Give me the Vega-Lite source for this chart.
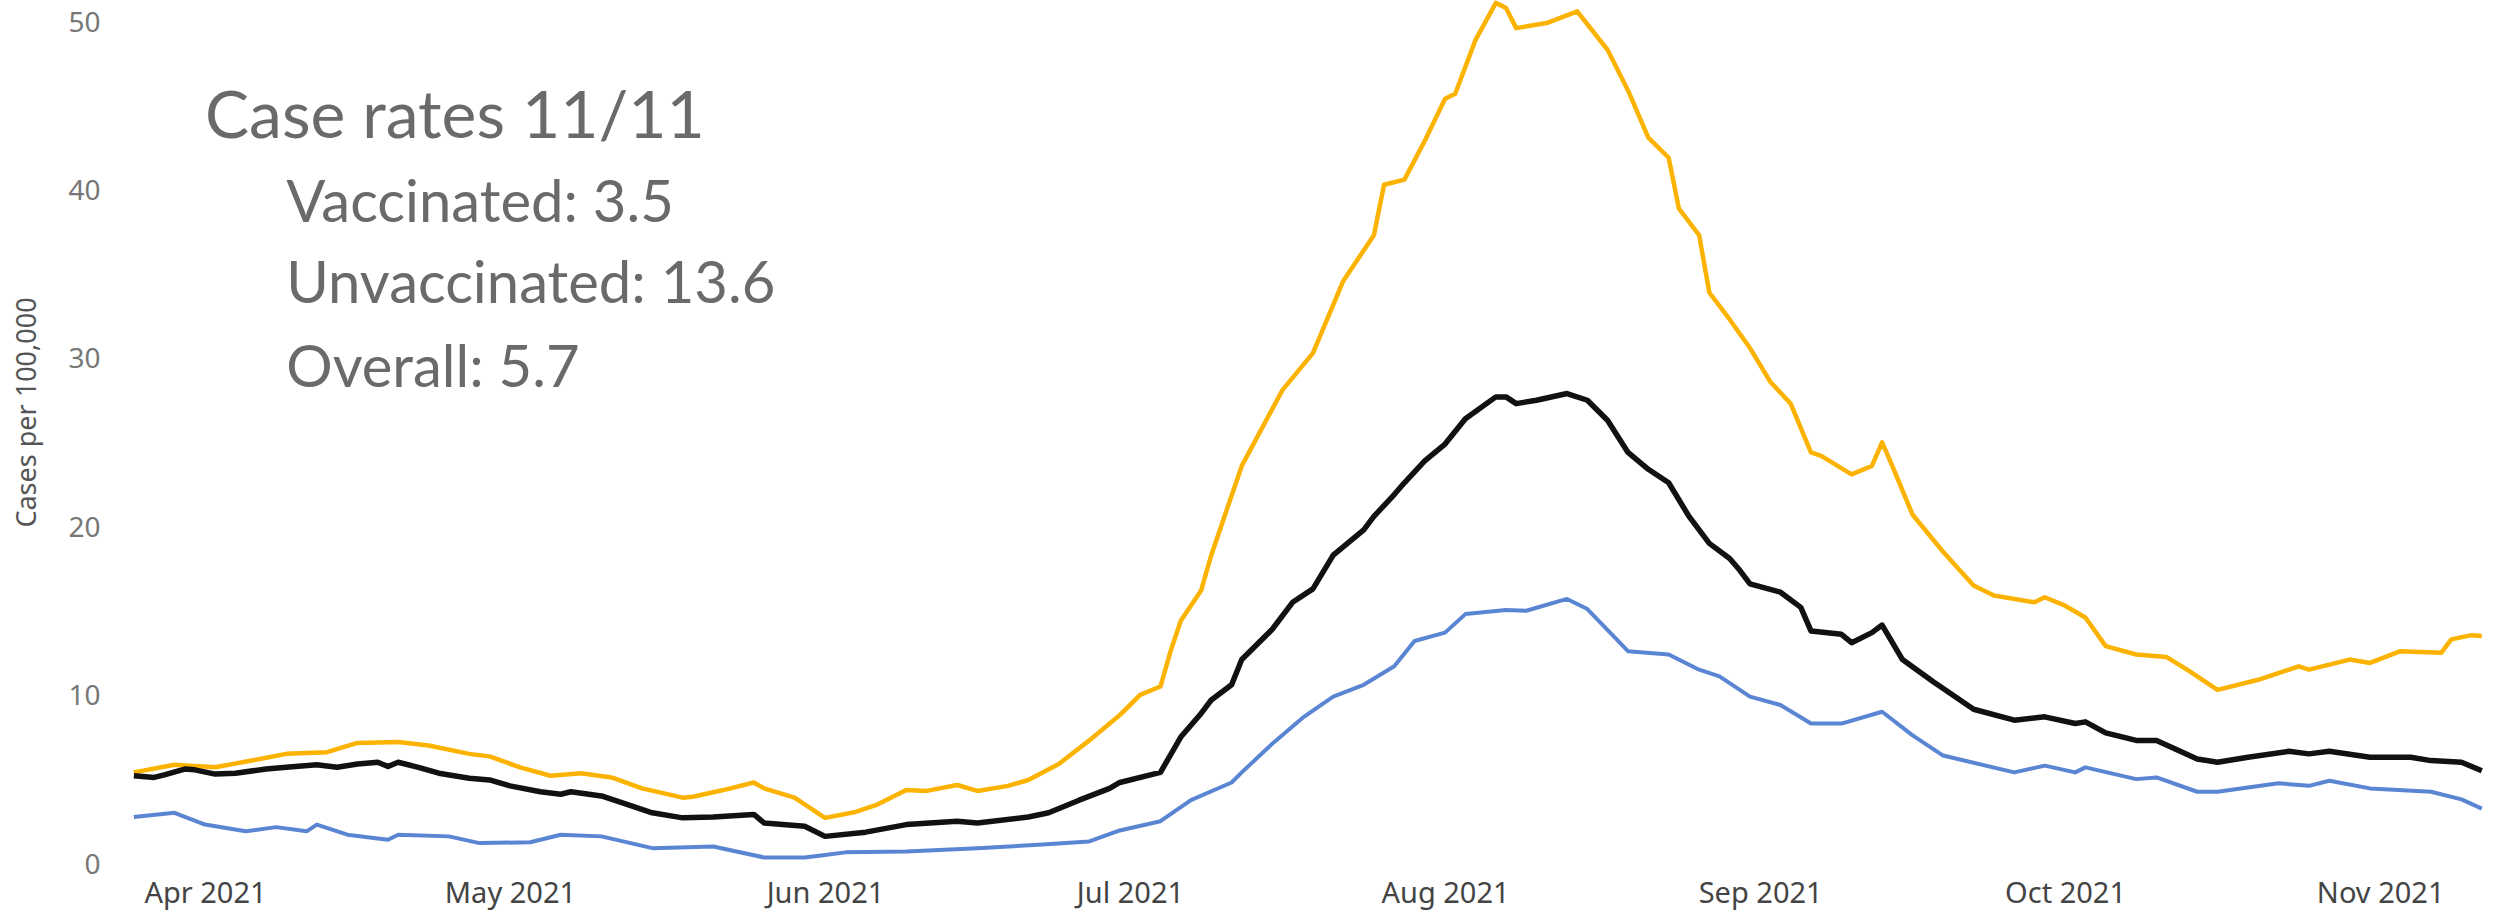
{
  "$schema": "https://vega.github.io/schema/vega-lite/v6.json",
  "width": 2370,
  "height": 865,
  "autosize": {"type": "none"},
  "padding": {"left": 130, "top": 0, "right": 11, "bottom": 52},
  "background": "white",
  "config": {"view": {"stroke": null}},
  "datasets": {
    "cases": [
      {"date": "2021-03-25", "series": "Overall", "value": 5.3},
      {"date": "2021-03-27", "series": "Overall", "value": 5.2},
      {"date": "2021-03-28", "series": "Overall", "value": 5.35},
      {"date": "2021-03-30", "series": "Overall", "value": 5.7},
      {"date": "2021-03-31", "series": "Overall", "value": 5.65},
      {"date": "2021-04-02", "series": "Overall", "value": 5.4},
      {"date": "2021-04-04", "series": "Overall", "value": 5.45},
      {"date": "2021-04-07", "series": "Overall", "value": 5.7},
      {"date": "2021-04-09", "series": "Overall", "value": 5.8},
      {"date": "2021-04-12", "series": "Overall", "value": 5.95},
      {"date": "2021-04-14", "series": "Overall", "value": 5.8},
      {"date": "2021-04-16", "series": "Overall", "value": 6.0},
      {"date": "2021-04-18", "series": "Overall", "value": 6.1},
      {"date": "2021-04-19", "series": "Overall", "value": 5.85},
      {"date": "2021-04-20", "series": "Overall", "value": 6.1},
      {"date": "2021-04-22", "series": "Overall", "value": 5.8},
      {"date": "2021-04-24", "series": "Overall", "value": 5.45},
      {"date": "2021-04-27", "series": "Overall", "value": 5.15},
      {"date": "2021-04-29", "series": "Overall", "value": 5.05},
      {"date": "2021-05-01", "series": "Overall", "value": 4.7},
      {"date": "2021-05-04", "series": "Overall", "value": 4.35},
      {"date": "2021-05-06", "series": "Overall", "value": 4.2},
      {"date": "2021-05-07", "series": "Overall", "value": 4.35},
      {"date": "2021-05-10", "series": "Overall", "value": 4.1},
      {"date": "2021-05-12", "series": "Overall", "value": 3.7},
      {"date": "2021-05-15", "series": "Overall", "value": 3.1},
      {"date": "2021-05-18", "series": "Overall", "value": 2.8},
      {"date": "2021-05-21", "series": "Overall", "value": 2.85},
      {"date": "2021-05-25", "series": "Overall", "value": 3.0},
      {"date": "2021-05-26", "series": "Overall", "value": 2.5},
      {"date": "2021-05-30", "series": "Overall", "value": 2.3},
      {"date": "2021-06-01", "series": "Overall", "value": 1.7},
      {"date": "2021-06-05", "series": "Overall", "value": 1.95},
      {"date": "2021-06-09", "series": "Overall", "value": 2.4},
      {"date": "2021-06-14", "series": "Overall", "value": 2.6},
      {"date": "2021-06-16", "series": "Overall", "value": 2.5},
      {"date": "2021-06-21", "series": "Overall", "value": 2.85},
      {"date": "2021-06-23", "series": "Overall", "value": 3.1},
      {"date": "2021-06-26", "series": "Overall", "value": 3.85},
      {"date": "2021-06-29", "series": "Overall", "value": 4.55},
      {"date": "2021-06-30", "series": "Overall", "value": 4.9},
      {"date": "2021-07-04", "series": "Overall", "value": 5.5},
      {"date": "2021-07-06", "series": "Overall", "value": 7.6},
      {"date": "2021-07-08", "series": "Overall", "value": 9.0},
      {"date": "2021-07-09", "series": "Overall", "value": 9.8},
      {"date": "2021-07-11", "series": "Overall", "value": 10.7},
      {"date": "2021-07-12", "series": "Overall", "value": 12.2},
      {"date": "2021-07-15", "series": "Overall", "value": 14.0},
      {"date": "2021-07-17", "series": "Overall", "value": 15.6},
      {"date": "2021-07-19", "series": "Overall", "value": 16.4},
      {"date": "2021-07-21", "series": "Overall", "value": 18.4},
      {"date": "2021-07-24", "series": "Overall", "value": 19.9},
      {"date": "2021-07-25", "series": "Overall", "value": 20.7},
      {"date": "2021-07-27", "series": "Overall", "value": 22.0},
      {"date": "2021-07-28", "series": "Overall", "value": 22.7},
      {"date": "2021-07-30", "series": "Overall", "value": 24.0},
      {"date": "2021-08-01", "series": "Overall", "value": 25.0},
      {"date": "2021-08-03", "series": "Overall", "value": 26.5},
      {"date": "2021-08-06", "series": "Overall", "value": 27.8},
      {"date": "2021-08-07", "series": "Overall", "value": 27.8},
      {"date": "2021-08-08", "series": "Overall", "value": 27.4},
      {"date": "2021-08-10", "series": "Overall", "value": 27.6},
      {"date": "2021-08-13", "series": "Overall", "value": 28.0},
      {"date": "2021-08-15", "series": "Overall", "value": 27.6},
      {"date": "2021-08-17", "series": "Overall", "value": 26.4},
      {"date": "2021-08-19", "series": "Overall", "value": 24.5},
      {"date": "2021-08-21", "series": "Overall", "value": 23.5},
      {"date": "2021-08-23", "series": "Overall", "value": 22.7},
      {"date": "2021-08-25", "series": "Overall", "value": 20.7},
      {"date": "2021-08-27", "series": "Overall", "value": 19.1},
      {"date": "2021-08-29", "series": "Overall", "value": 18.2},
      {"date": "2021-08-30", "series": "Overall", "value": 17.5},
      {"date": "2021-08-31", "series": "Overall", "value": 16.7},
      {"date": "2021-09-03", "series": "Overall", "value": 16.2},
      {"date": "2021-09-05", "series": "Overall", "value": 15.3},
      {"date": "2021-09-06", "series": "Overall", "value": 13.9},
      {"date": "2021-09-09", "series": "Overall", "value": 13.7},
      {"date": "2021-09-10", "series": "Overall", "value": 13.2},
      {"date": "2021-09-12", "series": "Overall", "value": 13.8},
      {"date": "2021-09-13", "series": "Overall", "value": 14.25},
      {"date": "2021-09-15", "series": "Overall", "value": 12.2},
      {"date": "2021-09-18", "series": "Overall", "value": 10.9},
      {"date": "2021-09-22", "series": "Overall", "value": 9.25},
      {"date": "2021-09-26", "series": "Overall", "value": 8.6},
      {"date": "2021-09-29", "series": "Overall", "value": 8.8},
      {"date": "2021-10-02", "series": "Overall", "value": 8.4},
      {"date": "2021-10-03", "series": "Overall", "value": 8.5},
      {"date": "2021-10-05", "series": "Overall", "value": 7.85},
      {"date": "2021-10-08", "series": "Overall", "value": 7.4},
      {"date": "2021-10-10", "series": "Overall", "value": 7.4},
      {"date": "2021-10-14", "series": "Overall", "value": 6.3},
      {"date": "2021-10-16", "series": "Overall", "value": 6.1},
      {"date": "2021-10-19", "series": "Overall", "value": 6.4},
      {"date": "2021-10-23", "series": "Overall", "value": 6.75},
      {"date": "2021-10-25", "series": "Overall", "value": 6.6},
      {"date": "2021-10-27", "series": "Overall", "value": 6.75},
      {"date": "2021-10-31", "series": "Overall", "value": 6.4},
      {"date": "2021-11-04", "series": "Overall", "value": 6.4},
      {"date": "2021-11-06", "series": "Overall", "value": 6.2},
      {"date": "2021-11-09", "series": "Overall", "value": 6.1},
      {"date": "2021-11-11", "series": "Overall", "value": 5.6},

      {"date": "2021-03-25", "series": "Unvaccinated", "value": 5.5},
      {"date": "2021-03-29", "series": "Unvaccinated", "value": 5.95},
      {"date": "2021-04-02", "series": "Unvaccinated", "value": 5.8},
      {"date": "2021-04-06", "series": "Unvaccinated", "value": 6.25},
      {"date": "2021-04-09", "series": "Unvaccinated", "value": 6.6},
      {"date": "2021-04-13", "series": "Unvaccinated", "value": 6.7},
      {"date": "2021-04-16", "series": "Unvaccinated", "value": 7.25},
      {"date": "2021-04-20", "series": "Unvaccinated", "value": 7.3},
      {"date": "2021-04-23", "series": "Unvaccinated", "value": 7.1},
      {"date": "2021-04-27", "series": "Unvaccinated", "value": 6.6},
      {"date": "2021-04-29", "series": "Unvaccinated", "value": 6.45},
      {"date": "2021-05-02", "series": "Unvaccinated", "value": 5.8},
      {"date": "2021-05-05", "series": "Unvaccinated", "value": 5.3},
      {"date": "2021-05-08", "series": "Unvaccinated", "value": 5.45},
      {"date": "2021-05-11", "series": "Unvaccinated", "value": 5.2},
      {"date": "2021-05-14", "series": "Unvaccinated", "value": 4.55},
      {"date": "2021-05-18", "series": "Unvaccinated", "value": 4.0},
      {"date": "2021-05-19", "series": "Unvaccinated", "value": 4.05},
      {"date": "2021-05-22", "series": "Unvaccinated", "value": 4.45},
      {"date": "2021-05-25", "series": "Unvaccinated", "value": 4.9},
      {"date": "2021-05-26", "series": "Unvaccinated", "value": 4.55},
      {"date": "2021-05-29", "series": "Unvaccinated", "value": 4.0},
      {"date": "2021-06-01", "series": "Unvaccinated", "value": 2.8},
      {"date": "2021-06-04", "series": "Unvaccinated", "value": 3.15},
      {"date": "2021-06-06", "series": "Unvaccinated", "value": 3.55},
      {"date": "2021-06-09", "series": "Unvaccinated", "value": 4.45},
      {"date": "2021-06-11", "series": "Unvaccinated", "value": 4.4},
      {"date": "2021-06-14", "series": "Unvaccinated", "value": 4.75},
      {"date": "2021-06-16", "series": "Unvaccinated", "value": 4.4},
      {"date": "2021-06-19", "series": "Unvaccinated", "value": 4.7},
      {"date": "2021-06-21", "series": "Unvaccinated", "value": 5.05},
      {"date": "2021-06-24", "series": "Unvaccinated", "value": 6.0},
      {"date": "2021-06-27", "series": "Unvaccinated", "value": 7.4},
      {"date": "2021-06-29", "series": "Unvaccinated", "value": 8.4},
      {"date": "2021-06-30", "series": "Unvaccinated", "value": 8.9},
      {"date": "2021-07-02", "series": "Unvaccinated", "value": 10.1},
      {"date": "2021-07-04", "series": "Unvaccinated", "value": 10.6},
      {"date": "2021-07-05", "series": "Unvaccinated", "value": 12.7},
      {"date": "2021-07-06", "series": "Unvaccinated", "value": 14.5},
      {"date": "2021-07-08", "series": "Unvaccinated", "value": 16.3},
      {"date": "2021-07-09", "series": "Unvaccinated", "value": 18.4},
      {"date": "2021-07-12", "series": "Unvaccinated", "value": 23.7},
      {"date": "2021-07-16", "series": "Unvaccinated", "value": 28.2},
      {"date": "2021-07-19", "series": "Unvaccinated", "value": 30.4},
      {"date": "2021-07-22", "series": "Unvaccinated", "value": 34.7},
      {"date": "2021-07-25", "series": "Unvaccinated", "value": 37.4},
      {"date": "2021-07-26", "series": "Unvaccinated", "value": 40.4},
      {"date": "2021-07-28", "series": "Unvaccinated", "value": 40.7},
      {"date": "2021-07-30", "series": "Unvaccinated", "value": 43.0},
      {"date": "2021-08-01", "series": "Unvaccinated", "value": 45.5},
      {"date": "2021-08-02", "series": "Unvaccinated", "value": 45.8},
      {"date": "2021-08-04", "series": "Unvaccinated", "value": 49.0},
      {"date": "2021-08-06", "series": "Unvaccinated", "value": 51.2},
      {"date": "2021-08-07", "series": "Unvaccinated", "value": 50.9},
      {"date": "2021-08-08", "series": "Unvaccinated", "value": 49.7},
      {"date": "2021-08-11", "series": "Unvaccinated", "value": 50.0},
      {"date": "2021-08-14", "series": "Unvaccinated", "value": 50.7},
      {"date": "2021-08-17", "series": "Unvaccinated", "value": 48.4},
      {"date": "2021-08-19", "series": "Unvaccinated", "value": 46.0},
      {"date": "2021-08-21", "series": "Unvaccinated", "value": 43.2},
      {"date": "2021-08-23", "series": "Unvaccinated", "value": 42.0},
      {"date": "2021-08-24", "series": "Unvaccinated", "value": 39.0},
      {"date": "2021-08-26", "series": "Unvaccinated", "value": 37.4},
      {"date": "2021-08-27", "series": "Unvaccinated", "value": 34.0},
      {"date": "2021-08-29", "series": "Unvaccinated", "value": 32.4},
      {"date": "2021-08-31", "series": "Unvaccinated", "value": 30.7},
      {"date": "2021-09-02", "series": "Unvaccinated", "value": 28.7},
      {"date": "2021-09-04", "series": "Unvaccinated", "value": 27.4},
      {"date": "2021-09-06", "series": "Unvaccinated", "value": 24.5},
      {"date": "2021-09-07", "series": "Unvaccinated", "value": 24.3},
      {"date": "2021-09-10", "series": "Unvaccinated", "value": 23.2},
      {"date": "2021-09-12", "series": "Unvaccinated", "value": 23.7},
      {"date": "2021-09-13", "series": "Unvaccinated", "value": 25.1},
      {"date": "2021-09-14", "series": "Unvaccinated", "value": 23.7},
      {"date": "2021-09-16", "series": "Unvaccinated", "value": 20.8},
      {"date": "2021-09-19", "series": "Unvaccinated", "value": 18.6},
      {"date": "2021-09-22", "series": "Unvaccinated", "value": 16.6},
      {"date": "2021-09-24", "series": "Unvaccinated", "value": 16.0},
      {"date": "2021-09-28", "series": "Unvaccinated", "value": 15.6},
      {"date": "2021-09-29", "series": "Unvaccinated", "value": 15.9},
      {"date": "2021-10-01", "series": "Unvaccinated", "value": 15.4},
      {"date": "2021-10-03", "series": "Unvaccinated", "value": 14.7},
      {"date": "2021-10-05", "series": "Unvaccinated", "value": 13.0},
      {"date": "2021-10-08", "series": "Unvaccinated", "value": 12.5},
      {"date": "2021-10-11", "series": "Unvaccinated", "value": 12.35},
      {"date": "2021-10-13", "series": "Unvaccinated", "value": 11.6},
      {"date": "2021-10-16", "series": "Unvaccinated", "value": 10.4},
      {"date": "2021-10-20", "series": "Unvaccinated", "value": 11.0},
      {"date": "2021-10-24", "series": "Unvaccinated", "value": 11.8},
      {"date": "2021-10-25", "series": "Unvaccinated", "value": 11.6},
      {"date": "2021-10-29", "series": "Unvaccinated", "value": 12.2},
      {"date": "2021-10-31", "series": "Unvaccinated", "value": 12.0},
      {"date": "2021-11-03", "series": "Unvaccinated", "value": 12.7},
      {"date": "2021-11-07", "series": "Unvaccinated", "value": 12.6},
      {"date": "2021-11-08", "series": "Unvaccinated", "value": 13.4},
      {"date": "2021-11-10", "series": "Unvaccinated", "value": 13.65},
      {"date": "2021-11-11", "series": "Unvaccinated", "value": 13.6},

      {"date": "2021-03-25", "series": "Vaccinated", "value": 2.85},
      {"date": "2021-03-29", "series": "Vaccinated", "value": 3.1},
      {"date": "2021-04-01", "series": "Vaccinated", "value": 2.4},
      {"date": "2021-04-05", "series": "Vaccinated", "value": 2.0},
      {"date": "2021-04-08", "series": "Vaccinated", "value": 2.25},
      {"date": "2021-04-11", "series": "Vaccinated", "value": 2.0},
      {"date": "2021-04-12", "series": "Vaccinated", "value": 2.4},
      {"date": "2021-04-15", "series": "Vaccinated", "value": 1.8},
      {"date": "2021-04-19", "series": "Vaccinated", "value": 1.5},
      {"date": "2021-04-20", "series": "Vaccinated", "value": 1.8},
      {"date": "2021-04-25", "series": "Vaccinated", "value": 1.7},
      {"date": "2021-04-28", "series": "Vaccinated", "value": 1.3},
      {"date": "2021-05-03", "series": "Vaccinated", "value": 1.35},
      {"date": "2021-05-06", "series": "Vaccinated", "value": 1.8},
      {"date": "2021-05-10", "series": "Vaccinated", "value": 1.7},
      {"date": "2021-05-15", "series": "Vaccinated", "value": 1.0},
      {"date": "2021-05-21", "series": "Vaccinated", "value": 1.1},
      {"date": "2021-05-26", "series": "Vaccinated", "value": 0.45},
      {"date": "2021-05-30", "series": "Vaccinated", "value": 0.45},
      {"date": "2021-06-01", "series": "Vaccinated", "value": 0.6},
      {"date": "2021-06-03", "series": "Vaccinated", "value": 0.75},
      {"date": "2021-06-09", "series": "Vaccinated", "value": 0.8},
      {"date": "2021-06-16", "series": "Vaccinated", "value": 1.0},
      {"date": "2021-06-22", "series": "Vaccinated", "value": 1.2},
      {"date": "2021-06-27", "series": "Vaccinated", "value": 1.4},
      {"date": "2021-06-30", "series": "Vaccinated", "value": 2.05},
      {"date": "2021-07-04", "series": "Vaccinated", "value": 2.6},
      {"date": "2021-07-07", "series": "Vaccinated", "value": 3.85},
      {"date": "2021-07-11", "series": "Vaccinated", "value": 4.9},
      {"date": "2021-07-12", "series": "Vaccinated", "value": 5.5},
      {"date": "2021-07-15", "series": "Vaccinated", "value": 7.2},
      {"date": "2021-07-18", "series": "Vaccinated", "value": 8.75},
      {"date": "2021-07-21", "series": "Vaccinated", "value": 10.0},
      {"date": "2021-07-24", "series": "Vaccinated", "value": 10.7},
      {"date": "2021-07-27", "series": "Vaccinated", "value": 11.8},
      {"date": "2021-07-29", "series": "Vaccinated", "value": 13.3},
      {"date": "2021-08-01", "series": "Vaccinated", "value": 13.8},
      {"date": "2021-08-03", "series": "Vaccinated", "value": 14.9},
      {"date": "2021-08-07", "series": "Vaccinated", "value": 15.15},
      {"date": "2021-08-09", "series": "Vaccinated", "value": 15.1},
      {"date": "2021-08-13", "series": "Vaccinated", "value": 15.8},
      {"date": "2021-08-15", "series": "Vaccinated", "value": 15.2},
      {"date": "2021-08-19", "series": "Vaccinated", "value": 12.7},
      {"date": "2021-08-23", "series": "Vaccinated", "value": 12.5},
      {"date": "2021-08-26", "series": "Vaccinated", "value": 11.6},
      {"date": "2021-08-28", "series": "Vaccinated", "value": 11.2},
      {"date": "2021-08-31", "series": "Vaccinated", "value": 10.0},
      {"date": "2021-09-03", "series": "Vaccinated", "value": 9.5},
      {"date": "2021-09-06", "series": "Vaccinated", "value": 8.4},
      {"date": "2021-09-09", "series": "Vaccinated", "value": 8.4},
      {"date": "2021-09-13", "series": "Vaccinated", "value": 9.1},
      {"date": "2021-09-16", "series": "Vaccinated", "value": 7.7},
      {"date": "2021-09-19", "series": "Vaccinated", "value": 6.5},
      {"date": "2021-09-26", "series": "Vaccinated", "value": 5.5},
      {"date": "2021-09-29", "series": "Vaccinated", "value": 5.9},
      {"date": "2021-10-02", "series": "Vaccinated", "value": 5.5},
      {"date": "2021-10-03", "series": "Vaccinated", "value": 5.8},
      {"date": "2021-10-08", "series": "Vaccinated", "value": 5.1},
      {"date": "2021-10-10", "series": "Vaccinated", "value": 5.2},
      {"date": "2021-10-14", "series": "Vaccinated", "value": 4.35},
      {"date": "2021-10-16", "series": "Vaccinated", "value": 4.35},
      {"date": "2021-10-22", "series": "Vaccinated", "value": 4.85},
      {"date": "2021-10-25", "series": "Vaccinated", "value": 4.7},
      {"date": "2021-10-27", "series": "Vaccinated", "value": 5.0},
      {"date": "2021-10-31", "series": "Vaccinated", "value": 4.55},
      {"date": "2021-11-06", "series": "Vaccinated", "value": 4.35},
      {"date": "2021-11-09", "series": "Vaccinated", "value": 3.9},
      {"date": "2021-11-11", "series": "Vaccinated", "value": 3.35}
    ],
    "notes": [
      {"date": "2021-04-01", "value": 43.2, "label": "Case rates 11/11", "kind": "head"},
      {"date": "2021-04-09", "value": 38.2, "label": "Vaccinated: 3.5", "kind": "sub"},
      {"date": "2021-04-09", "value": 33.4, "label": "Unvaccinated: 13.6", "kind": "sub"},
      {"date": "2021-04-09", "value": 28.4, "label": "Overall:  5.7", "kind": "sub"}
    ]
  },
  "encoding": {
    "x": {
      "field": "date",
      "type": "temporal",
      "scale": {"type": "utc", "domain": [1616597654000, 1636743456000], "nice": false},
      "axis": {
        "title": null,
        "format": "%b %Y",
        "tickCount": {"interval": "month", "step": 1},
        "ticks": false,
        "domain": false,
        "grid": false,
        "labelFont": "Noto Sans",
        "labelFontSize": 29,
        "labelColor": "#444444",
        "labelPadding": 14,
        "labelAlign": "center",
        "labelFlush": false,
        "labelOverlap": false
      }
    },
    "y": {
      "field": "value",
      "type": "quantitative",
      "scale": {"domain": [0, 51.37], "nice": false, "zero": true},
      "axis": {
        "title": "Cases per 100,000",
        "values": [0, 10, 20, 30, 40, 50],
        "ticks": false,
        "domain": false,
        "grid": false,
        "labelFont": "Noto Sans",
        "labelFontSize": 28,
        "labelColor": "#777777",
        "labelPadding": 30,
        "titleFont": "Noto Sans",
        "titleFontSize": 27,
        "titleFontWeight": "normal",
        "titleColor": "#555555",
        "titleAngle": 270,
        "titleBaseline": "middle",
        "titleAlign": "center",
        "titleX": -103,
        "titleY": 412
      }
    }
  },
  "layer": [
    {
      "data": {"name": "cases"},
      "transform": [{"filter": "datum.series === 'Unvaccinated'"}],
      "mark": {"type": "line", "color": "#FBB300", "strokeWidth": 4.5, "strokeJoin": "round"}
    },
    {
      "data": {"name": "cases"},
      "transform": [{"filter": "datum.series === 'Vaccinated'"}],
      "mark": {"type": "line", "color": "#5A85D3", "strokeWidth": 4, "strokeJoin": "round"}
    },
    {
      "data": {"name": "cases"},
      "transform": [{"filter": "datum.series === 'Overall'"}],
      "mark": {"type": "line", "color": "#111111", "strokeWidth": 5.5, "strokeJoin": "round"}
    },
    {
      "data": {"name": "notes"},
      "transform": [{"filter": "datum.kind === 'head'"}],
      "mark": {"type": "text", "align": "left", "baseline": "alphabetic", "font": "Lato", "fontSize": 66, "color": "#6A6A6A"},
      "encoding": {"text": {"field": "label"}}
    },
    {
      "data": {"name": "notes"},
      "transform": [{"filter": "datum.kind === 'sub'"}],
      "mark": {"type": "text", "align": "left", "baseline": "alphabetic", "font": "Lato", "fontSize": 58, "color": "#6A6A6A"},
      "encoding": {"text": {"field": "label"}}
    }
  ]
}
